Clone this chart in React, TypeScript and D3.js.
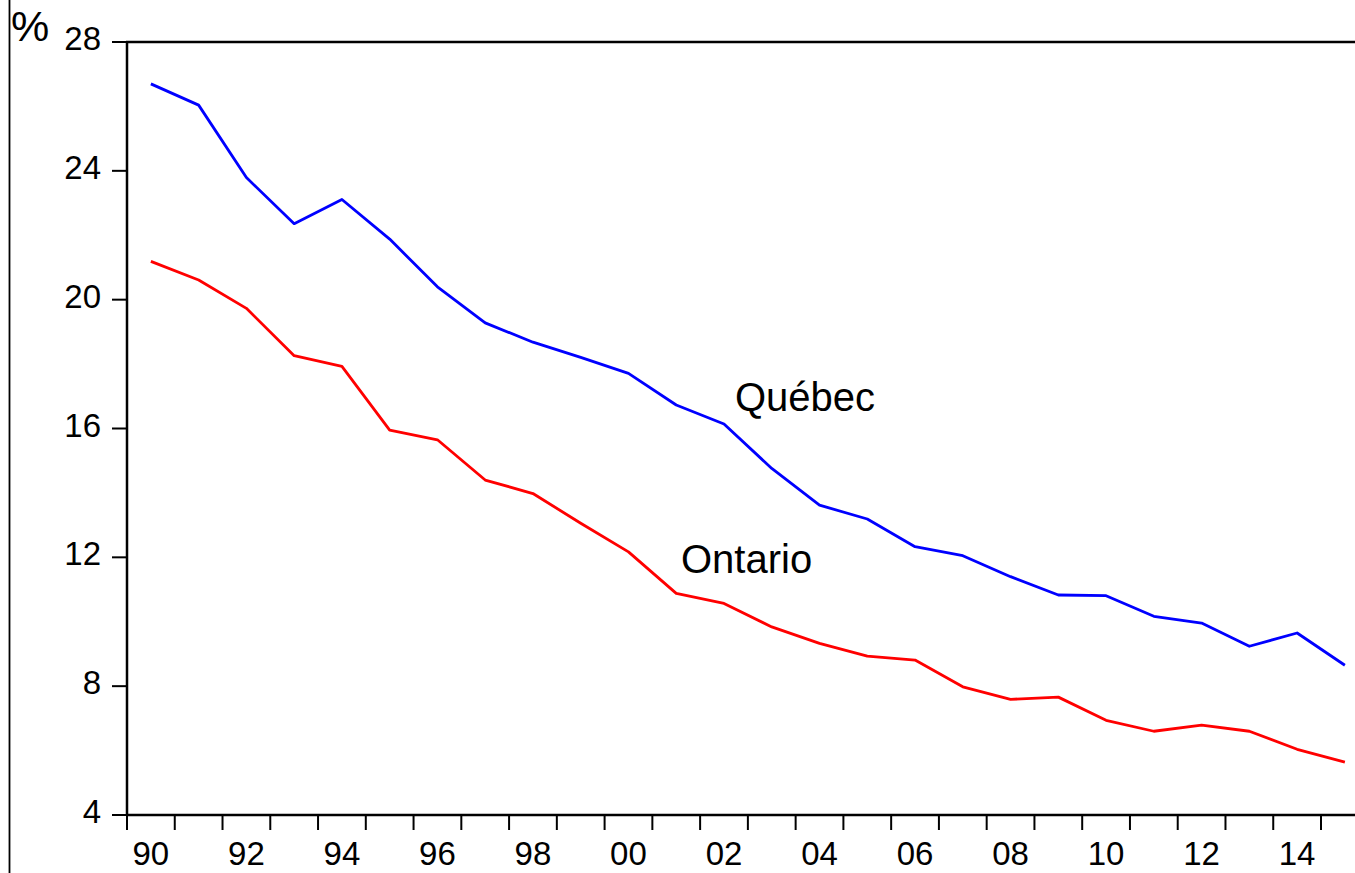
import React, { useEffect, useRef } from 'react';
import * as d3 from 'd3';

const years = [
  1990, 1991, 1992, 1993, 1994, 1995, 1996, 1997, 1998, 1999, 2000, 2001, 2002,
  2003, 2004, 2005, 2006, 2007, 2008, 2009, 2010, 2011, 2012, 2013, 2014, 2015,
];
const quebec = [
  26.7, 26.04, 23.79, 22.36, 23.11, 21.88, 20.4, 19.28, 18.68, 18.21, 17.71, 16.73, 16.14,
  14.76, 13.62, 13.19, 12.33, 12.05, 11.4, 10.83, 10.81, 10.17, 9.96, 9.24, 9.65, 8.65,
];
const ontario = [
  21.19, 20.61, 19.73, 18.26, 17.93, 15.95, 15.65, 14.4, 13.98, 13.06, 12.17, 10.88, 10.57,
  9.84, 9.33, 8.93, 8.81, 7.98, 7.59, 7.66, 6.94, 6.6, 6.79, 6.6, 6.04, 5.64,
];
const yTicks = [4, 8, 12, 16, 20, 24, 28];
const xLabelYears = [1990, 1992, 1994, 1996, 1998, 2000, 2002, 2004, 2006, 2008, 2010, 2012, 2014];

const W = 1355;
const H = 873;
const FONT = '"Liberation Sans", Arial, sans-serif';

const App = () => {
  const svgRef = useRef<SVGSVGElement>(null);

  useEffect(() => {
    const svg = d3.select(svgRef.current);
    svg.selectAll('*').remove();

    const left = 127;
    const top = 42;
    const bottom = 815;
    const yearW = 47.76;

    const x = d3.scaleLinear().domain([1990, 2016]).range([left, left + 26 * yearW]);
    const y = d3.scaleLinear().domain([4, 28]).range([bottom, top]);

    // stray frame line on the far left
    svg.append('line')
      .attr('x1', 9.5).attr('x2', 9.5).attr('y1', 0).attr('y2', H)
      .attr('stroke', '#000').attr('stroke-width', 1.8);

    // plot frame: left, bottom, top
    svg.append('line')
      .attr('x1', left).attr('x2', left).attr('y1', top).attr('y2', bottom)
      .attr('stroke', '#000').attr('stroke-width', 2.5);
    svg.append('line')
      .attr('x1', left - 1).attr('x2', W).attr('y1', bottom).attr('y2', bottom)
      .attr('stroke', '#000').attr('stroke-width', 2.5);
    svg.append('line')
      .attr('x1', left - 1).attr('x2', W).attr('y1', top).attr('y2', top)
      .attr('stroke', '#000').attr('stroke-width', 2.5);

    // y ticks + labels
    const yg = svg.append('g');
    yg.selectAll('line')
      .data(yTicks)
      .join('line')
      .attr('x1', left - 15).attr('x2', left)
      .attr('y1', d => y(d)).attr('y2', d => y(d))
      .attr('stroke', '#000').attr('stroke-width', 2);
    yg.selectAll('text')
      .data(yTicks)
      .join('text')
      .attr('x', 101)
      .attr('y', d => y(d) + 8)
      .attr('text-anchor', 'end')
      .attr('font-family', FONT)
      .attr('font-size', 33)
      .text(d => d);

    // x ticks at year boundaries
    const xg = svg.append('g');
    xg.selectAll('line')
      .data(years)
      .join('line')
      .attr('x1', d => x(d)).attr('x2', d => x(d))
      .attr('y1', bottom).attr('y2', bottom + 15)
      .attr('stroke', '#000').attr('stroke-width', 2);
    xg.selectAll('text')
      .data(xLabelYears)
      .join('text')
      .attr('x', d => x(d + 0.5))
      .attr('y', 865)
      .attr('text-anchor', 'middle')
      .attr('font-family', FONT)
      .attr('font-size', 33)
      .text(d => String(d % 100).padStart(2, '0'));

    svg.append('text')
      .attr('x', 11).attr('y', 41)
      .attr('font-family', FONT)
      .attr('font-size', 43)
      .text('%');

    const line = d3.line<number>()
      .x((_, i) => x(years[i] + 0.5))
      .y(d => y(d));

    svg.append('path')
      .datum(quebec)
      .attr('d', line)
      .attr('fill', 'none')
      .attr('stroke', '#0000ff')
      .attr('stroke-width', 2.8)
      .attr('stroke-linejoin', 'round');
    svg.append('path')
      .datum(ontario)
      .attr('d', line)
      .attr('fill', 'none')
      .attr('stroke', '#ff0000')
      .attr('stroke-width', 2.8)
      .attr('stroke-linejoin', 'round');

    svg.append('text')
      .attr('x', 735).attr('y', 411)
      .attr('font-family', FONT).attr('font-size', 40)
      .text('Québec');
    svg.append('text')
      .attr('x', 681).attr('y', 573)
      .attr('font-family', FONT).attr('font-size', 40)
      .text('Ontario');
  }, []);

  return (
    <svg
      ref={svgRef}
      width={W}
      height={H}
      style={{ position: 'absolute', left: 0, top: 0, background: '#fff' }}
    ></svg>
  );
};

export default App;
